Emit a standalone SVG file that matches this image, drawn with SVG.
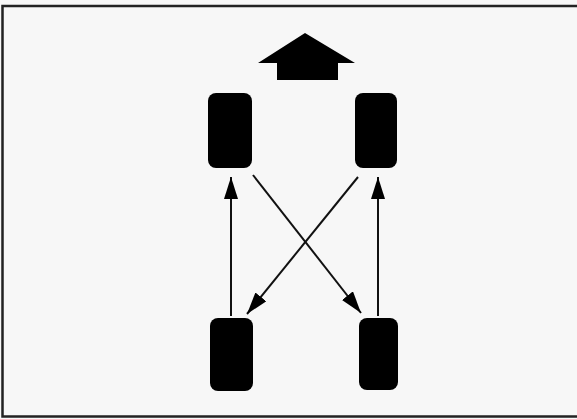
<svg xmlns="http://www.w3.org/2000/svg" width="577" height="419" viewBox="0 0 577 419">
<defs>
<style>
.tire{fill:#000;}
.con{stroke:#111;stroke-width:2;fill:none;marker-end:url(#ah);}
</style>
<marker id="ah" viewBox="0 0 22 14" refX="22" refY="7" markerWidth="22" markerHeight="14" markerUnits="userSpaceOnUse" orient="auto">
<path d="M0,0 L22,7 L0,14 Z" fill="#000"/>
</marker>
</defs>
<rect x="0" y="0" width="577" height="419" fill="#f7f7f7"/>
<rect x="2.5" y="6" width="578" height="410.5" fill="none" stroke="#222" stroke-width="2.5"/>
<g id="forward">
<path d="M305,33 L355,63 L338,63 L338,80 L277,80 L277,63 L258,63 Z" fill="#000"/>
</g>
<g id="tire-front-left"><rect class="tire" x="208" y="93" width="44" height="75" rx="8"/></g>
<g id="tire-front-right"><rect class="tire" x="355" y="93" width="42" height="75" rx="8"/></g>
<g id="tire-rear-left"><rect class="tire" x="210" y="318" width="43" height="73" rx="8"/></g>
<g id="tire-rear-right"><rect class="tire" x="359" y="318" width="39" height="72" rx="8"/></g>
<g id="connectors">
<line class="con" x1="231" y1="316" x2="231" y2="177"/>
<line class="con" x1="378" y1="316" x2="378" y2="177"/>
<line class="con" x1="253" y1="175" x2="361" y2="313"/>
<line class="con" x1="358" y1="177" x2="247" y2="314"/>
</g>
</svg>
